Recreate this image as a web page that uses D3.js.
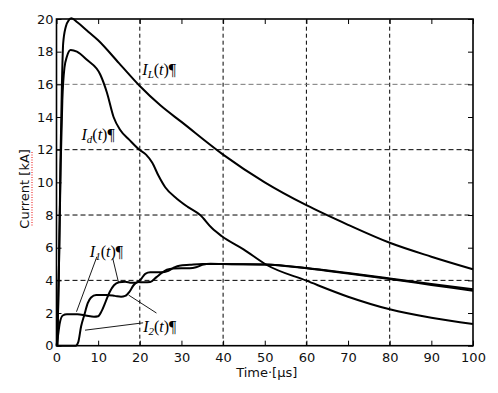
<!DOCTYPE html>
<html><head><meta charset="utf-8">
<script src="https://cdn.jsdelivr.net/npm/d3@7"></script>
<style>body{margin:0;background:#fff}svg{display:block}</style>
</head><body>
<svg id="chart" width="498" height="393"></svg>
<script>
// ---- data ----
const xTicks = [0,10,20,30,40,50,60,70,80,90,100];
const yTicks = [0,2,4,6,8,10,12,14,16,18,20];
const gridX = [20,40,60,80];
const gridY = [4,8,12,16];

const tL = [0.2,0.6,1.0,1.3,1.6,2.2,3.0,3.6,5,7.3,10,15,20,25,30,40,50,60,70,80,90,100];
const iL = [0,5,12,16,18.5,19.5,19.95,20.05,19.8,19.3,18.7,17.3,15.9,14.7,13.7,11.7,10.0,8.6,7.4,6.3,5.45,4.68];

const tD = [0.2,0.6,1.0,1.4,1.9,2.5,3.4,4.9,7.3,10.5,12.1,13.7,15.3,17.5,19.9,21.5,23.0,24.5,26.1,28.9,31.5,34.5,37.3,39.7,44.9,50.5,60,70,80,90,100];
const iD = [0,5,11,15,17,17.7,18.1,18.0,17.5,16.6,15.5,14.0,13.2,12.6,12.0,11.7,11.2,10.4,9.7,9.0,8.5,8.0,7.2,6.7,5.9,4.94,3.98,3.0,2.23,1.71,1.33];

const t1 = [0,0.3,0.8,1.5,2.5,5,7,9,10,10.8,11.8,12.8,13.8,15,16.5,18,19.2,20.2,21.3,22.5,25.5,26.5,28,29.5,32,35,40,50,60,70,80,90,100];
const i1 = [0,0.5,1.4,1.85,1.93,1.92,1.85,1.77,1.8,2.1,2.7,3.3,3.7,3.88,3.92,3.85,3.85,4.05,4.4,4.5,4.5,4.55,4.75,4.9,4.95,5.0,5.0,4.97,4.76,4.45,4.12,3.78,3.45];

const t2 = [0,4.6,5.2,5.9,6.7,7.5,8.3,9.5,12,14,15.5,16.5,17.5,18.5,19.5,21,22.5,24,25.5,26.5,28,32,33.5,35,37,40,50,60,70,80,90,100];
const i2 = [0,0,0.2,1.17,1.9,2.6,2.95,3.1,3.1,3.05,3.0,3.05,3.3,3.7,3.9,3.88,3.9,4.2,4.5,4.65,4.73,4.74,4.8,4.95,5.02,5.0,4.97,4.74,4.42,4.08,3.72,3.36];

// labels (data coords)
const labelNames = ["I","I","I","I"];
const labelSubs = ["L","d","1","2"];
const labelT = [20.6, 6.0, 8.0, 20.8];
const labelV = [16.6, 12.6, 5.4, 0.85];

// pointer lines in data coords
const ptrFrom = [[9.7,5.45],[13.5,5.35],[20.8,1.4],[24.0,2.0]];
const ptrTo   = [[4.8,2.08],[14.9,3.86],[6.85,0.95],[17.3,3.1]];

// ---- chart ----
const svg = d3.select("#chart");
const x = d3.scaleLinear().domain([0,100]).range([56.5,473]);
const y = d3.scaleLinear().domain([0,20]).range([345.7,19]);
const font = "'DejaVu Sans', Verdana, sans-serif";

// grid
svg.append("g").selectAll("line").data(gridX).join("line")
  .attr("x1",d=>x(d)).attr("x2",d=>x(d)).attr("y1",y(0)).attr("y2",y(20))
  .attr("stroke","#000").attr("stroke-width",1).attr("stroke-dasharray","4,3");
svg.append("g").selectAll("line").data(gridY).join("line")
  .attr("x1",x(0)).attr("x2",x(100)).attr("y1",d=>y(d)).attr("y2",d=>y(d))
  .attr("stroke",d=>d===16?"#777":"#000").attr("stroke-width",1).attr("stroke-dasharray","5,3");

// axes
function styleAxis(g){
  g.selectAll(".domain").remove();
  g.selectAll(".tick line").attr("stroke","#000").attr("stroke-width",1);
  g.selectAll("text").attr("font-family",font).attr("font-size",13).attr("fill","#111");
}
svg.append("g").attr("transform",`translate(0,${y(0)})`)
  .call(d3.axisBottom(x).tickValues(xTicks).tickSizeInner(-5).tickSizeOuter(0).tickPadding(7).tickFormat(d3.format("d")))
  .call(styleAxis);
svg.append("g").attr("transform",`translate(${x(0)},0)`)
  .call(d3.axisLeft(y).tickValues(yTicks).tickSizeInner(-5).tickSizeOuter(0).tickPadding(3).tickFormat(d3.format("d")))
  .call(styleAxis);
svg.append("g").attr("transform",`translate(0,${y(20)})`)
  .call(d3.axisTop(x).tickValues(xTicks).tickSizeInner(-5).tickSizeOuter(0).tickFormat(""))
  .call(styleAxis);
svg.append("g").attr("transform",`translate(${x(100)},0)`)
  .call(d3.axisRight(y).tickValues(yTicks).tickSizeInner(-5).tickSizeOuter(0).tickFormat(""))
  .call(styleAxis);

// frame
svg.append("rect").attr("x",x(0)).attr("y",y(20)).attr("width",x(100)-x(0)).attr("height",y(0)-y(20))
  .attr("fill","none").attr("stroke","#000").attr("stroke-width",1.6);

// curves
const line = d3.line().x(d=>x(d[0])).y(d=>y(d[1])).curve(d3.curveMonotoneX);
const series = [[tL,iL],[tD,iD],[t1,i1],[t2,i2]];
svg.append("g").selectAll("path").data(series).join("path")
  .attr("d",s=>line(s[0].map((t,i)=>[t,s[1][i]])))
  .attr("fill","none").attr("stroke","#000").attr("stroke-width",2).attr("stroke-linejoin","round");

// pointer lines
svg.append("g").selectAll("line").data(ptrFrom).join("line")
  .attr("x1",d=>x(d[0])).attr("y1",d=>y(d[1]))
  .attr("x2",(d,i)=>x(ptrTo[i][0])).attr("y2",(d,i)=>y(ptrTo[i][1]))
  .attr("stroke","#000").attr("stroke-width",0.9);

// labels
labelNames.forEach((n,i)=>{
  const t = svg.append("text").attr("x",x(labelT[i])).attr("y",y(labelV[i]))
    .attr("font-family","'Liberation Serif','Times New Roman',serif").attr("font-size",16).attr("fill","#000");
  t.append("tspan").attr("font-style","italic").text(n);
  t.append("tspan").attr("font-style","italic").attr("font-size",11).attr("dy",3).text(labelSubs[i]);
  t.append("tspan").attr("dy",-3).text("(");
  t.append("tspan").attr("font-style","italic").text("t");
  t.append("tspan").text(")¶");
});

// axis titles
svg.append("text").attr("x",x(50)+2).attr("y",377).attr("text-anchor","middle")
  .attr("font-family",font).attr("font-size",13).attr("fill","#111").text("Time·[µs]");
svg.append("text").attr("transform",`translate(29,${y(9.6)}) rotate(-90)`).attr("text-anchor","middle")
  .attr("font-family",font).attr("font-size",13).attr("fill","#111").text("Current [kA]");
svg.append("line").attr("x1",32).attr("x2",32).attr("y1",y(9.6)-37).attr("y2",y(9.6)+37)
  .attr("stroke","#e33").attr("stroke-width",1.2).attr("stroke-dasharray","1,1.5");
</script>
</body></html>
